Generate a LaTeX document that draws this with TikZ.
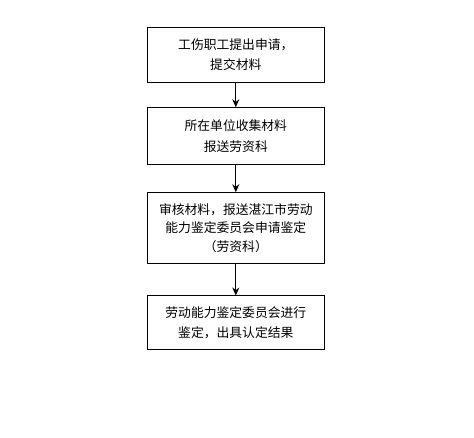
\documentclass[tikz,border=0pt]{standalone}
\usepackage{fontspec}
\newfontfamily\cjk{Noto Sans CJK SC}
\usetikzlibrary{arrows.meta}
\usetikzlibrary{positioning}

\begin{document}
\begin{tikzpicture}[x=1pt, y=-1pt]
	\useasboundingbox[fill=white] (0,0) rectangle (474,438);
	\begin{scope}[every node/.style={rectangle, draw, line width=1pt,
	              minimum width=177pt, text width=165pt, align=center,
	              inner sep=0pt, font=\cjk\fontsize{12.8}{20.5}\selectfont}]
		\node[minimum height=55pt] (1) at (235.8,54.8) {工伤职工提出申请，\\提交材料};
		\node[minimum height=57pt] (2) at (235.8,136.3) {所在单位收集材料\\报送劳资科};
		\node[minimum height=70.6pt, font=\cjk\fontsize{12.8}{18.5}\selectfont] (3) at (235.8,228) {审核材料，报送湛江市劳动\\能力鉴定委员会申请鉴定\\（劳资科）};
		\node[minimum height=54pt] (4) at (235.8,323) {劳动能力鉴定委员会进行\\鉴定，出具认定结果};
	\end{scope}

	\begin{scope}[>={Stealth[black, length=8pt, width=7pt]},
	              every edge/.style={draw=black, line width=1pt, ->}]
		\path (1) edge (2);
		\path (2) edge (3);
		\path (3) edge (4);
	\end{scope}
\end{tikzpicture}
\end{document}
